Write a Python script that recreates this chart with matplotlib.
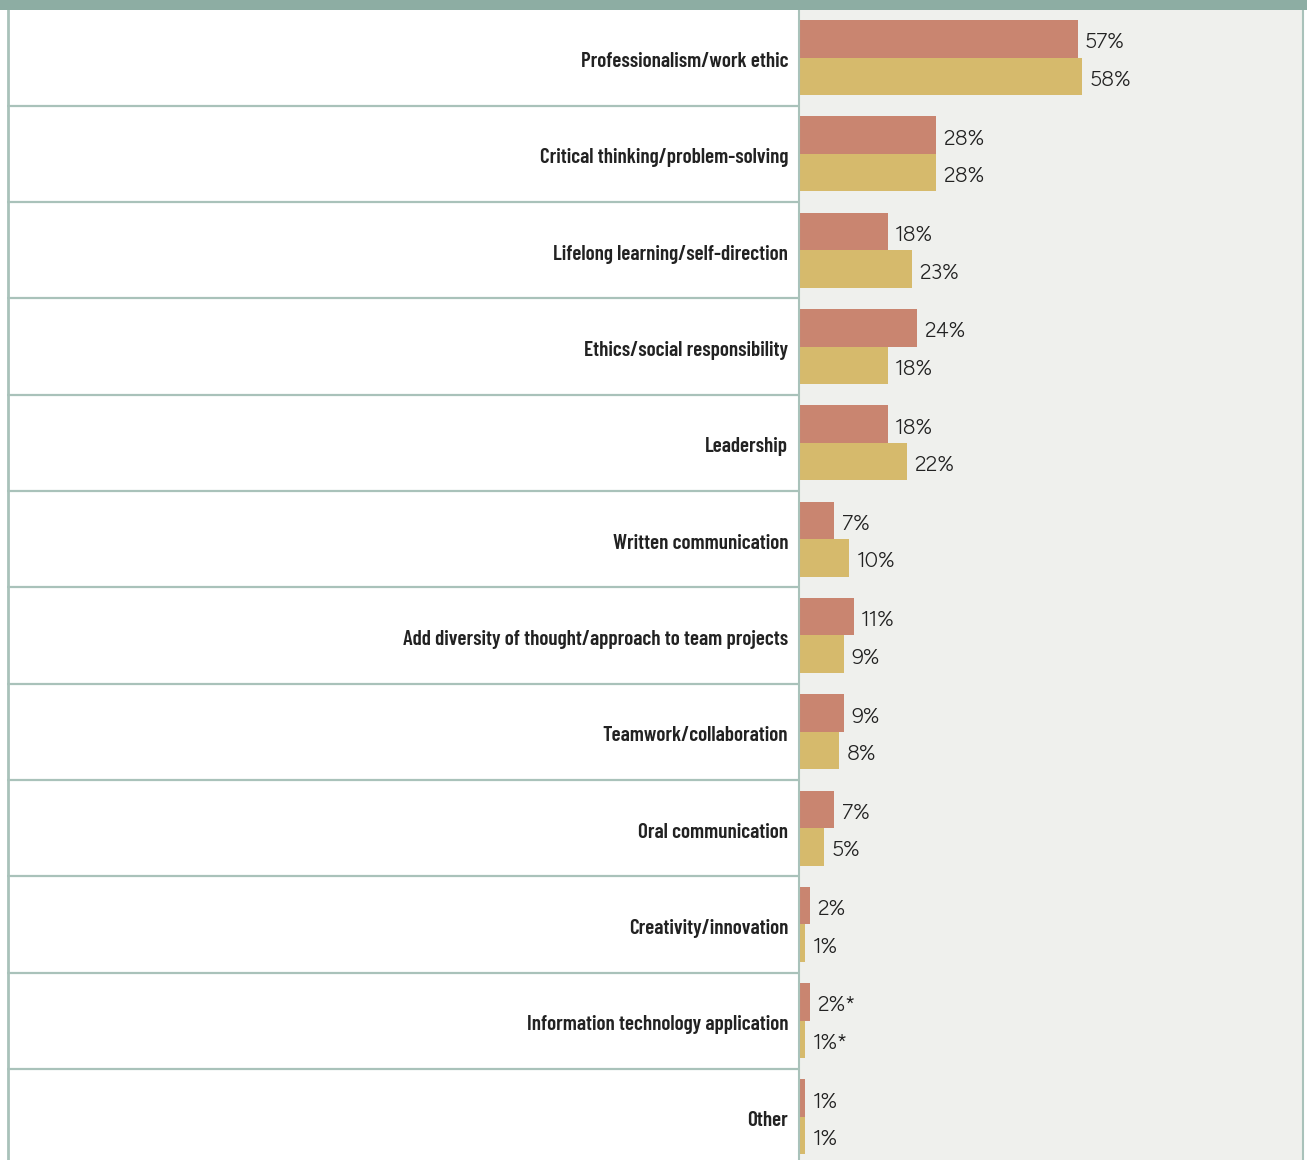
import matplotlib
matplotlib.use("Agg")
import matplotlib.pyplot as plt
from matplotlib.patches import Rectangle
from matplotlib import font_manager

categories = [
    "Professionalism/work ethic",
    "Critical thinking/problem-solving",
    "Lifelong learning/self-direction",
    "Ethics/social responsibility",
    "Leadership",
    "Written communication",
    "Add diversity of thought/approach to team projects",
    "Teamwork/collaboration",
    "Oral communication",
    "Creativity/innovation",
    "Information technology application",
    "Other",
]
series_a = [57, 28, 18, 24, 18, 7, 11, 9, 7, 2, 2, 1]
series_b = [58, 28, 23, 18, 22, 10, 9, 8, 5, 1, 1, 1]
labels_a = ["57%", "28%", "18%", "24%", "18%", "7%", "11%", "9%", "7%", "2%", "2%*", "1%"]
labels_b = ["58%", "28%", "23%", "18%", "22%", "10%", "9%", "8%", "5%", "1%", "1%*", "1%"]

W, H = 1307, 1160
fig = plt.figure(figsize=(W / 100, H / 100), dpi=100)
fig.patch.set_facecolor("white")

def wnum(w):
    if isinstance(w, int):
        return w
    return {"bold": 700, "semibold": 600, "demibold": 600}.get(str(w), 400)

bold_fams = {f.name for f in font_manager.fontManager.ttflist if wnum(f.weight) >= 600}
avail = {f.name for f in font_manager.fontManager.ttflist}
label_family = [f for f in ["Barlow Condensed", "Sofia Sans Extra Condensed", "Fira Sans Extra Condensed",
                            "Roboto Condensed", "IBM Plex Sans Condensed"] if f in bold_fams] + ["DejaVu Sans"]
value_family = [f for f in ["Figtree", "Lato", "Open Sans"] if f in avail] + ["DejaVu Sans"]

red = "#c98570"
yellow = "#d6ba6c"
panel = "#eff0ed"
band = "#8dada3"
line = "#a9c2ba"

top_px = 9.5
row_px = 96.3
n_rows_visible = (H - top_px) / row_px

def fx(px):
    return px / W

def fy(py):
    return 1 - py / H

# left label panel
axl = fig.add_axes([fx(7), 0, fx(799 - 7), fy(top_px)])
axl.set_xlim(7, 799)
axl.set_ylim(n_rows_visible, 0)
axl.axis("off")
for i in range(1, len(categories)):
    axl.axhline(i, color=line, lw=1.6)

renderer = fig.canvas.get_renderer()
probe = axl.text(0, -5, max(categories, key=len), fontsize=16, fontweight=600,
                 family=label_family)
wpx = probe.get_window_extent(renderer).width
probe.remove()
label_size = min(16.5, 16 * 387.0 / wpx)

for i, c in enumerate(categories):
    axl.text(788, i + 0.5 + 2 / row_px, c, ha="right", va="center_baseline",
             fontsize=label_size, fontweight=600, family=label_family, color="#222222")

# bar panel
axb = fig.add_axes([fx(799), 0, fx(1302 - 799), fy(top_px)])
px_per_pct = 4.87
axb.set_xlim(0, (1302 - 799) / px_per_pct)
axb.set_ylim(n_rows_visible, 0)
axb.set_facecolor(panel)
for s in axb.spines.values():
    s.set_visible(False)
axb.set_xticks([])
axb.set_yticks([])

bh = 37.5 / row_px
ys = [i + 0.5 for i in range(len(categories))]
axb.barh([y - bh / 2 for y in ys], series_a, height=bh, color=red, left=0.2)
axb.barh([y + bh / 2 for y in ys], series_b, height=bh, color=yellow, left=0.2)
off = 7.5 / px_per_pct
dy = 2 / row_px
for y, v, t in zip(ys, series_a, labels_a):
    axb.text(v + 0.2 + off, y - bh / 2 + dy, t, ha="left", va="center_baseline", fontsize=15.3,
             family=value_family, color="#222222")
for y, v, t in zip(ys, series_b, labels_b):
    axb.text(v + 0.2 + off, y + bh / 2 + dy, t, ha="left", va="center_baseline", fontsize=15.3,
             family=value_family, color="#222222")

# decorations
fig.patches.append(Rectangle((0, fy(top_px)), 1, 1 - fy(top_px), transform=fig.transFigure,
                             facecolor=band, edgecolor="none", zorder=5))
fig.lines.append(plt.Line2D([fx(7.5), fx(7.5)], [0, fy(top_px)], transform=fig.transFigure,
                            color=line, lw=2))
fig.lines.append(plt.Line2D([fx(799.5), fx(799.5)], [0, fy(top_px)], transform=fig.transFigure,
                            color=line, lw=1.5))
fig.lines.append(plt.Line2D([fx(1302.5), fx(1302.5)], [0, fy(top_px)], transform=fig.transFigure,
                            color=line, lw=1.5))

fig.savefig("out.png", dpi=100)
